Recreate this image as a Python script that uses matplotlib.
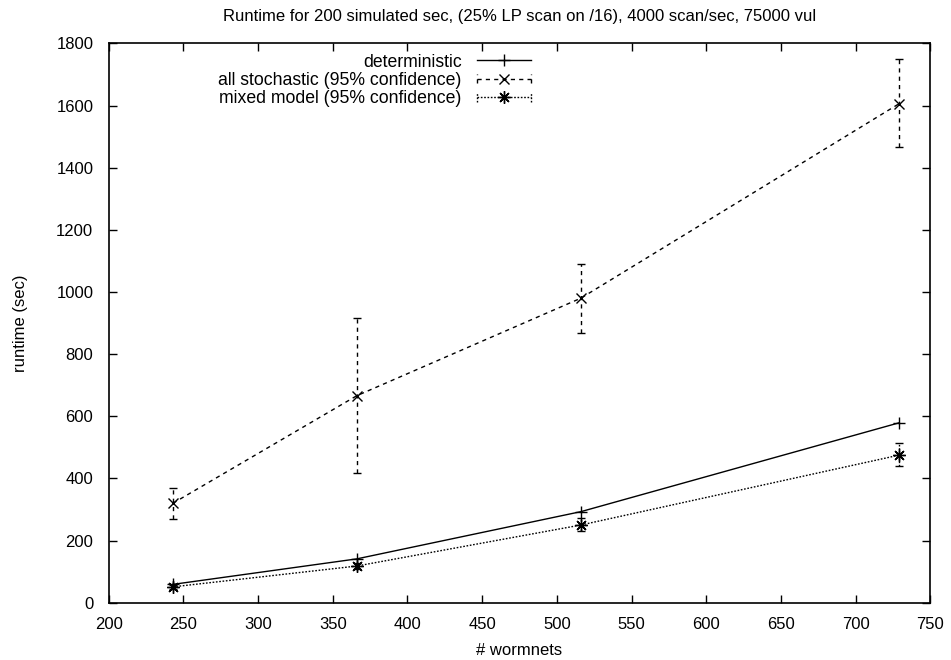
import matplotlib
matplotlib.use("Agg")
import matplotlib.pyplot as plt
from matplotlib.legend_handler import HandlerBase
from matplotlib.lines import Line2D

# Measured runtimes versus number of wormnets
wormnets = [243, 366, 516, 729]
deterministic = [59, 141, 293, 579]
stochastic = [320, 666, 980, 1606]
stochastic_lo = [268, 418, 867, 1466]
stochastic_hi = [370, 915, 1090, 1750]
mixed = [51, 118, 250, 475]
mixed_lo = [44, 108, 230, 439]
mixed_hi = [58, 128, 272, 513]

labels = ["deterministic",
          "all stochastic (95% confidence)",
          "mixed model (95% confidence)"]
title = "Runtime for 200 simulated sec, (25% LP scan on /16), 4000 scan/sec, 75000 vul"

plt.rcParams['font.family'] = ['Liberation Sans', 'DejaVu Sans']
FS = 12
KEY_FS = 12.7

SOLID = '-'
DASH = (0, (3, 3))
DOT = (0, (1.2, 1.2))
ASTERISK = (8, 2, 0)

fig = plt.figure(figsize=(9.51, 6.6), dpi=100)
ax = fig.add_axes([0.1142, 0.0868, 0.8641, 0.8473])


class KeyHandler(HandlerBase):
    """gnuplot-style key sample: line, centred marker, optional end bars."""

    def __init__(self, ls, bars=False, **kw):
        super().__init__(**kw)
        self.ls = ls
        self.bars = bars

    def create_artists(self, legend, orig_handle, xdescent, ydescent,
                       width, height, fontsize, trans):
        y = height / 2 - ydescent
        x0 = -xdescent
        x1 = x0 + width
        arts = [Line2D([x0, x1], [y, y], linestyle=self.ls, color='k', lw=1),
                Line2D([(x0 + x1) / 2], [y], marker=orig_handle.get_marker(),
                       markersize=orig_handle.get_markersize(),
                       markeredgewidth=1, color='k', linestyle='none')]
        if self.bars:
            h = height * 0.35
            for x in (x0, x1):
                arts.append(Line2D([x, x], [y - h, y + h], linestyle=self.ls,
                                   color='k', lw=1))
        for a in arts:
            a.set_transform(trans)
        return arts


# deterministic
ax.plot(wormnets, deterministic, color='k', lw=1, linestyle=SOLID,
        marker='+', markersize=9, markeredgewidth=1)

# all stochastic with confidence interval
s_err = [[v - lo for v, lo in zip(stochastic, stochastic_lo)],
         [hi - v for v, hi in zip(stochastic, stochastic_hi)]]
eb = ax.errorbar(wormnets, stochastic, yerr=s_err, color='k', lw=1,
                 linestyle=DASH, marker='x', markersize=7, markeredgewidth=1,
                 capsize=3, capthick=1, elinewidth=1)
for c in eb[2]:
    c.set_linestyle(DASH)

# mixed model with confidence interval
m_err = [[v - lo for v, lo in zip(mixed, mixed_lo)],
         [hi - v for v, hi in zip(mixed, mixed_hi)]]
eb2 = ax.errorbar(wormnets, mixed, yerr=m_err, color='k', lw=1,
                  linestyle=DOT, marker=ASTERISK, markersize=9,
                  markeredgewidth=1, capsize=3, capthick=1, elinewidth=1)
for c in eb2[2]:
    c.set_linestyle(DOT)

h_det = Line2D([], [], marker='+', markersize=9)
h_sto = Line2D([], [], marker='x', markersize=7)
h_mix = Line2D([], [], marker=ASTERISK, markersize=9)
ax.legend([h_det, h_sto, h_mix], labels,
          handler_map={h_det: KeyHandler(SOLID), h_sto: KeyHandler(DASH, True),
                       h_mix: KeyHandler(DOT, True)},
          loc='upper right', bbox_to_anchor=(0.514, 0.982),
          frameon=False, markerfirst=False, handlelength=3.07,
          handletextpad=0.85, labelspacing=0.08, borderpad=0,
          borderaxespad=0, fontsize=KEY_FS)

ax.set_xlim(200, 750)
ax.set_ylim(0, 1800)
ax.set_xticks(range(200, 751, 50))
ax.set_yticks(range(0, 1801, 200))
ax.tick_params(direction='in', length=6, width=1, top=True, right=True,
               labelsize=FS)
ax.tick_params(axis='y', pad=11)
ax.tick_params(axis='x', pad=10)
for sp in ax.spines.values():
    sp.set_linewidth(1.2)

ax.set_xlabel("# wormnets", fontsize=FS, labelpad=8)
ax.set_ylabel("runtime (sec)", fontsize=FS, labelpad=20)
ax.set_title(title, fontsize=FS, pad=16)

fig.savefig("out.png", dpi=100)
